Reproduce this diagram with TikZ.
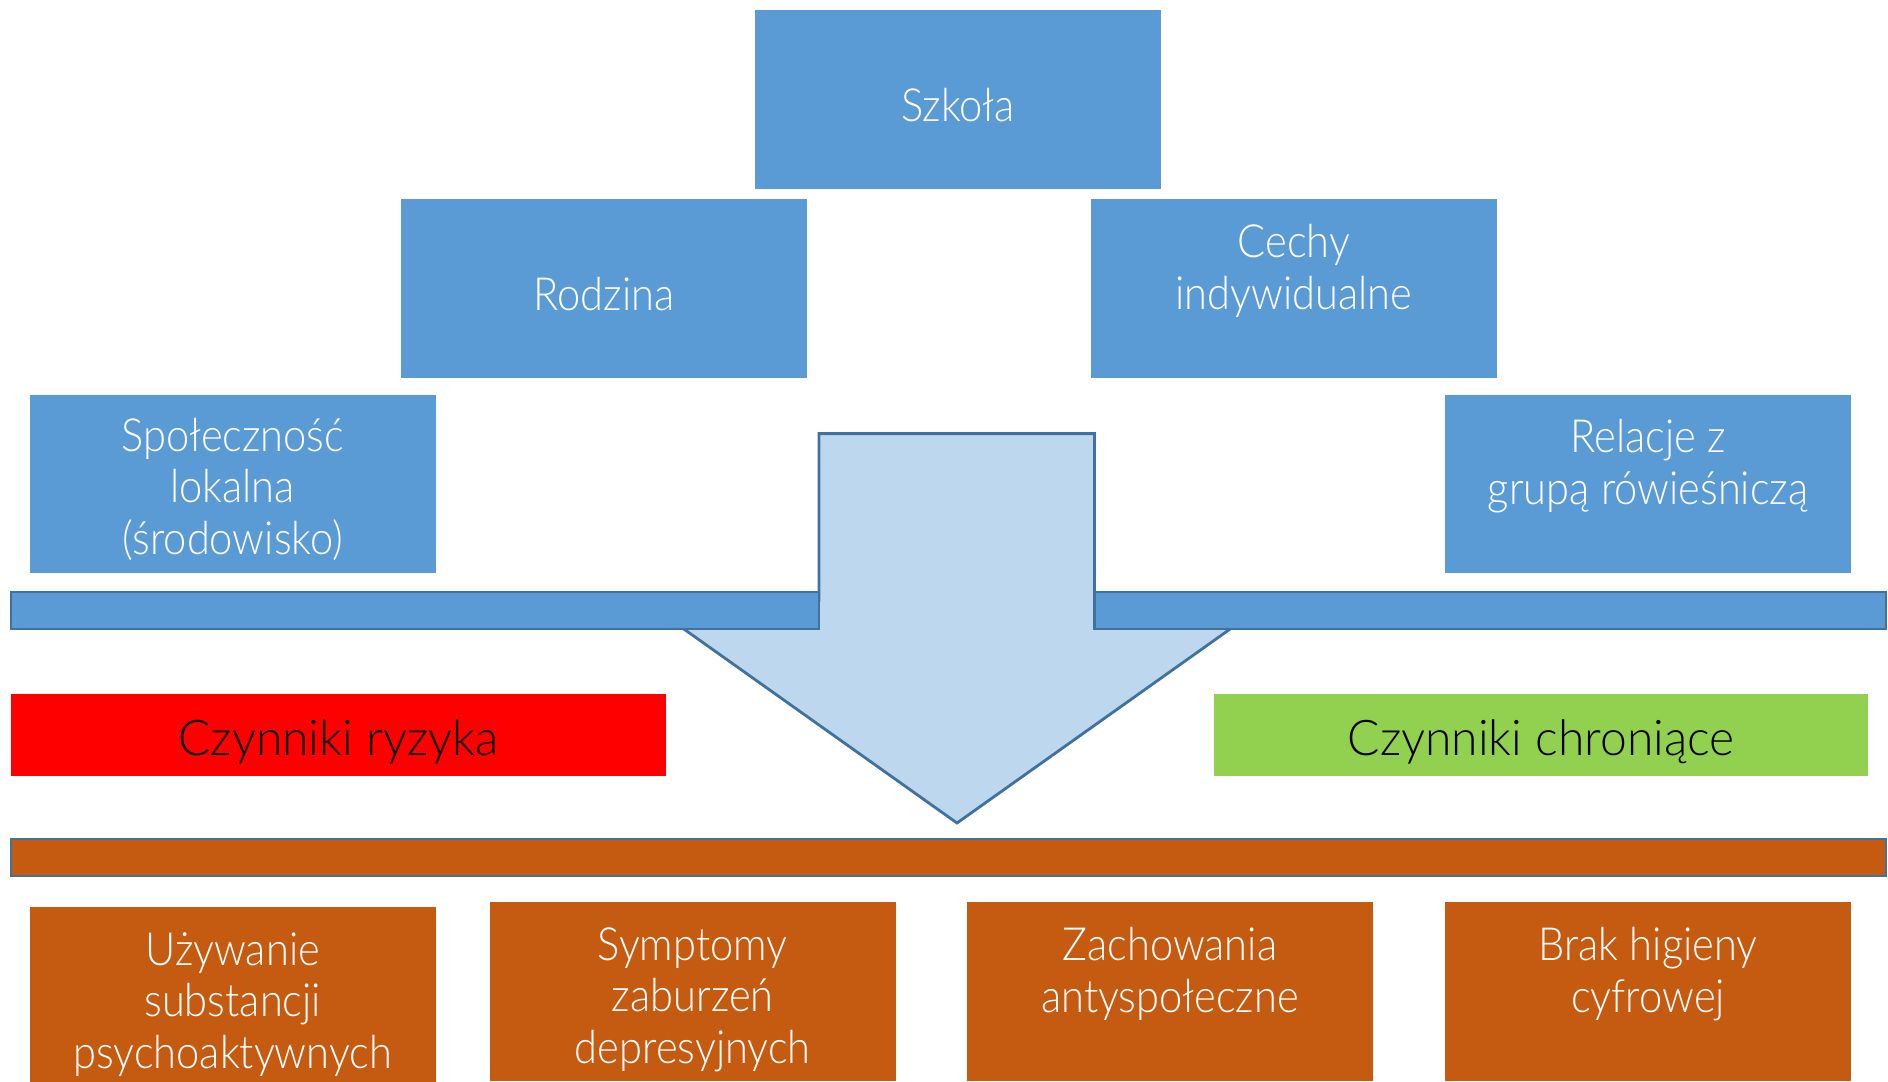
\documentclass[tikz,border=0pt]{standalone}
\usepackage{fontspec}
\setmainfont{Lato Light}
\newfontfamily\boxfont{Lato Light}[FakeStretch=0.91]
\newfontfamily\tagfont{Lato Light}[FakeStretch=0.975]
\usetikzlibrary{positioning}

\definecolor{boxblue}{HTML}{5B9BD5}
\definecolor{lineblue}{HTML}{41719C}
\definecolor{arrowblue}{HTML}{BDD7EE}
\definecolor{riskred}{HTML}{FF0000}
\definecolor{protgreen}{HTML}{92D050}
\definecolor{outorange}{HTML}{C55A11}

\tikzset{
    factor/.style={rectangle, inner sep=0pt, minimum width=4.06cm, minimum height=1.785cm},
    bluebox/.style={factor, fill=boxblue},
    orangebox/.style={factor, fill=outorange},
    boxtext/.style={align=center, text=white, yshift=-0.055cm, font=\boxfont\fontsize{13}{14.7}\selectfont},
    tagtext/.style={text=black, yshift=-0.07cm, font=\tagfont\fontsize{14}{16}\selectfont},
    bar/.style={draw=lineblue, line width=0.8pt}
}

\begin{document}
\begin{tikzpicture}[x=0.01cm, y=-0.01cm]
    \useasboundingbox (0,0) rectangle (1888,1082);

    % upper factor boxes
    \node[bluebox] (szkola) at (958, 99.3) {};
    \node[bluebox] (rodzina) at (604, 288.7) {};
    \node[bluebox] (cechy) at (1294, 288.7) {};
    \node[bluebox] (spolecznosc) at (232.7, 483.8) {};
    \node[bluebox] (relacje) at (1648, 483.8) {};

    \node[boxtext] (szkolatxt) at (szkola) {Szkoła};
    \node[boxtext] (rodzinatxt) at (rodzina) {Rodzina};
    \node[boxtext] (cechytxt) at ([yshift=0.23cm]cechy.center) {Cechy\\indywidualne};
    \node[boxtext] (spolecznosctxt) at (spolecznosc) {Społeczność\\lokalna\\(środowisko)};
    \node[boxtext] (relacjetxt) at ([yshift=0.23cm]relacje.center) {Relacje z\\grupą rówieśniczą};

    % big arrow
    \coordinate (shaftL) at (819, 433.6);
    \coordinate (shaftR) at (1094.5, 433.6);
    \coordinate (tip) at (957, 823);
    \draw[fill=arrowblue, draw=lineblue, line width=0.8pt, line join=miter]
        (shaftL) -- (shaftR) -- (1094.5, 600) -- (1271, 600) -- (tip)
        -- (643, 600) -- (819, 600) -- cycle;

    % bars
    \draw[bar, fill=boxblue] (11, 592) rectangle (819, 629);
    \draw[bar, fill=boxblue] (1094.5, 592) rectangle (1886, 629);
    \draw[bar, fill=outorange] (11, 839) rectangle (1886, 876);

    % risk and protective factors
    \node[rectangle, fill=riskred, minimum width=6.55cm, minimum height=0.82cm, inner sep=0pt] (ryzyko) at (338.5, 735) {};
    \node[rectangle, fill=protgreen, minimum width=6.54cm, minimum height=0.82cm, inner sep=0pt] (ochrona) at (1541, 735) {};
    \node[tagtext] (ryzykotxt) at (ryzyko) {Czynniki ryzyka};
    \node[tagtext] (ochronatxt) at (ochrona) {Czynniki chroniące};

    % outcomes
    \node[orangebox] (uzywanie) at (232.7, 995.8) {};
    \node[orangebox] (symptomy) at (692.7, 991.3) {};
    \node[orangebox] (zachowania) at (1170, 991.3) {};
    \node[orangebox] (higiena) at (1648, 991.3) {};

    \node[boxtext, yshift=-0.03cm] (uzywanietxt) at (uzywanie) {Używanie\\substancji\\psychoaktywnych};
    \node[boxtext, yshift=-0.03cm] (symptomytxt) at (symptomy) {Symptomy\\zaburzeń\\depresyjnych};
    \node[boxtext] (zachowaniatxt) at ([yshift=0.23cm]zachowania.center) {Zachowania\\antyspołeczne};
    \node[boxtext] (higienatxt) at ([yshift=0.23cm]higiena.center) {Brak higieny\\cyfrowej};
\end{tikzpicture}
\end{document}
